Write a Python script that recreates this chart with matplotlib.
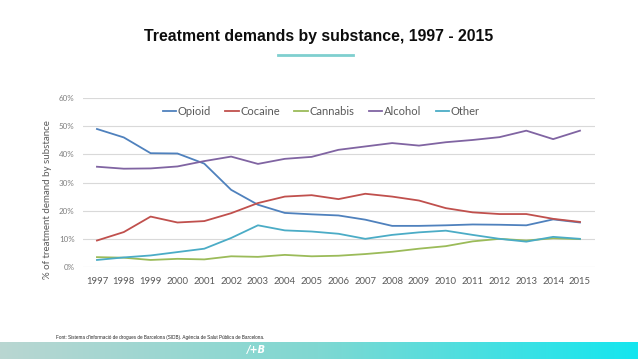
import numpy as np
import matplotlib
matplotlib.use("Agg")
import matplotlib.pyplot as plt
from matplotlib.colors import LinearSegmentedColormap
from matplotlib.ticker import PercentFormatter

years = list(range(1997, 2016))
opioid = [49.0, 46.0, 40.4, 40.3, 36.7, 27.4, 22.1, 19.2, 18.7, 18.3, 16.8, 14.6, 14.6, 14.8, 15.1, 15.0, 14.8, 16.9, 15.8]
cocaine = [9.4, 12.4, 17.9, 15.8, 16.3, 19.1, 22.7, 25.0, 25.5, 24.1, 26.0, 25.0, 23.6, 20.9, 19.4, 18.8, 18.8, 17.1, 16.0]
cannabis = [3.5, 3.3, 2.5, 2.9, 2.7, 3.8, 3.6, 4.3, 3.8, 4.0, 4.6, 5.4, 6.5, 7.4, 9.1, 10.0, 9.4, 10.2, 9.9]
alcohol = [35.6, 34.9, 35.0, 35.7, 37.6, 39.2, 36.6, 38.4, 39.1, 41.6, 42.8, 44.0, 43.1, 44.3, 45.1, 46.1, 48.4, 45.4, 48.4]
other = [2.5, 3.4, 4.1, 5.3, 6.5, 10.3, 14.8, 13.0, 12.6, 11.8, 10.0, 11.4, 12.3, 12.9, 11.4, 10.0, 9.0, 10.7, 10.0]

series = [("Opioid", opioid, "#4f81bd"),
          ("Cocaine", cocaine, "#c0504d"),
          ("Cannabis", cannabis, "#9bbb59"),
          ("Alcohol", alcohol, "#8064a2"),
          ("Other", other, "#4bacc6")]

fig = plt.figure(figsize=(6.38, 3.59), dpi=100)

ax = fig.add_axes([83 / 638, 1 - 267 / 359, (595 - 83) / 638, (267 - 98) / 359])
for name, vals, col in series:
    ax.plot(years, vals, color=col, lw=1.3, label=name)

ax.set_ylim(0, 60)
ax.set_xlim(1996.48, 2015.56)
ax.set_yticks(range(0, 61, 10))
ax.yaxis.set_major_formatter(PercentFormatter(decimals=0))
ax.set_xticks(years)
ax.grid(axis="y", color="#d9d9d9", lw=0.8)
ax.set_axisbelow(True)
for s in ax.spines.values():
    s.set_visible(False)
ax.tick_params(length=0, colors="#7f7f7f")
ax.tick_params(axis="y", labelsize=5.8, pad=6)
ax.tick_params(axis="x", labelsize=6.8, pad=7, labelcolor="#595959")
for lab in ax.get_xticklabels() + ax.get_yticklabels():
    lab.set_family("Lato")

leg = ax.legend(loc="upper center", bbox_to_anchor=(0.465, 1.01), ncol=5, frameon=False,
                prop={"family": "Lato", "size": 8}, handlelength=1.2, handletextpad=0.15,
                columnspacing=1.3)
for t in leg.get_texts():
    t.set_color("#595959")

fig.text(48 / 638, 1 - 200 / 359, "% of treatment demand by substance", rotation=90,
         ha="center", va="center", fontsize=7, color="#595959", family="Lato")

fig.text(0.5, 1 - 37 / 359, "Treatment demands by substance, 1997 - 2015", ha="center", va="center",
         fontsize=11.4, fontweight="bold", family="Liberation Sans", color="#0d0d0d")
fig.add_artist(plt.Line2D([278 / 638, 353 / 638], [1 - 55 / 359, 1 - 55 / 359],
                          color="#7fcfcf", lw=2))

fig.text(56 / 638, 1 - 337 / 359,
         "Font: Sistema d'informació de drogues de Barcelona (SIDB). Agència de Salut Pública de Barcelona.",
         ha="left", va="center", fontsize=3.35, family="Liberation Sans", color="#222222")

band = fig.add_axes([0, 0, 1, 17 / 359])
cmap = LinearSegmentedColormap.from_list("band", ["#b9d6d1", "#7fd8d2", "#14e6ef"])
band.imshow(np.linspace(0, 1, 256).reshape(1, -1), aspect="auto", cmap=cmap, extent=[0, 1, 0, 1])
band.set_axis_off()
band.text(256 / 638, 0.5, "/+B", ha="center", va="center", color="white", fontsize=7,
          fontweight="bold", style="italic", family="DejaVu Sans", transform=band.transAxes)

fig.savefig("out.png", dpi=100)
